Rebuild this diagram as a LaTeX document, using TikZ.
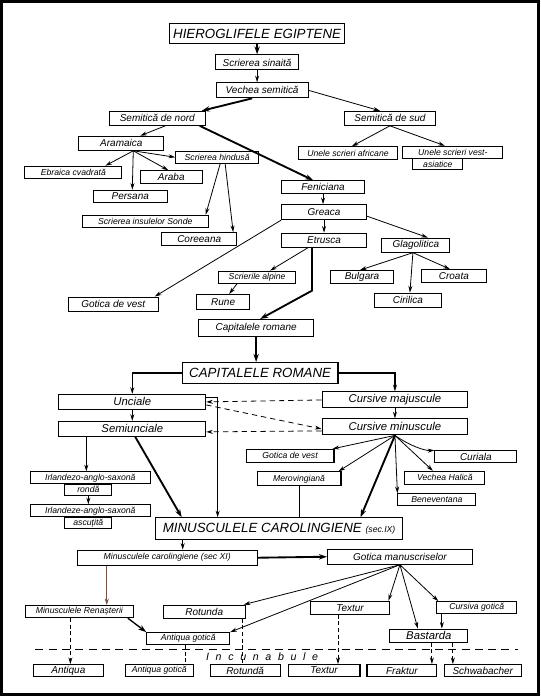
\documentclass[tikz,border=0pt]{standalone}
\usepackage{fontspec}
\setmainfont{Liberation Sans}
\usetikzlibrary{arrows.meta,calc}
\begin{document}
\begin{tikzpicture}[x=0.75pt,y=-0.75pt,
  bx/.style={draw, line width=0.8pt, inner sep=0pt, fill=white, font=\itshape\fontsize{7.5}{8}\selectfont},
  wd/.style={minimum width=#1*0.75pt},
  ht/.style={minimum height=#1*0.75pt},
  sm/.style={font=\itshape\fontsize{6.5}{7}\selectfont},
  md/.style={font=\itshape\fontsize{8.5}{9}\selectfont},
  big/.style={font=\itshape\fontsize{10}{11}\selectfont},
  con/.style={line width=0.6pt, -{Stealth[length=5pt,width=3pt]}},
  thk/.style={line width=1.4pt, -{Stealth[length=6pt,width=4pt]}},
  dsh/.style={dash pattern=on 3pt off 2pt, line width=0.6pt},
  brn/.style={draw={rgb,255:red,120;green,80;blue,70}},
]
\fill[white] (0,0) rectangle (540,696);
\draw[line width=2.2pt] (1,1) rectangle (539,695);

% ---------- upper tree ----------
\node[bx,big,wd=175,ht=20,line width=1.1pt] (title) at (257,33) {HIEROGLIFELE EGIPTENE};
\node[bx,wd=83,ht=15] (sin) at (257,62) {Scrierea sinaită};
\node[bx,wd=92,ht=15] (vsem) at (262,90) {Vechea semitică};
\node[bx,wd=96,ht=14] (snord) at (157,118) {Semitică de nord};
\node[bx,wd=91,ht=14] (ssud) at (390,118) {Semitică de sud};
\node[bx,wd=85,ht=14] (aram) at (121,143) {Aramaica};
\node[bx,sm,wd=83,ht=12] (hind) at (217,157) {Scrierea hindusă};
\node[bx,sm,wd=97,ht=12] (ebr) at (73,172) {Ebraica cvadrată};
\node[bx,wd=62,ht=13] (araba) at (171,177) {Araba};
\node[bx,wd=74,ht=12] (pers) at (130,196) {Persana};
\node[bx,sm,wd=126,ht=12] (sonde) at (145,221) {Scrierea insulelor Sonde};
\node[bx,wd=75,ht=13] (cor) at (199,239) {Coreeana};
\node[bx,sm,wd=100,ht=13] (afr) at (348,153) {Unele scrieri africane};
\node[bx,sm,wd=100,ht=12] (vest) at (453,152) {Unele scrieri vest-};
\node[bx,sm,wd=50,ht=11,anchor=north] (vestb) at (438,158) {asiatice};
\node[bx,wd=83,ht=13] (fen) at (323,187) {Feniciana};
\node[bx,wd=85,ht=15] (gre) at (324,212) {Greaca};
\node[bx,wd=85,ht=14] (etr) at (324,240) {Etrusca};
\node[bx,wd=68,ht=14] (glag) at (416,245) {Glagolitica};
\node[bx,sm,wd=77,ht=12] (alp) at (257,277) {Scrierile alpine};
\node[bx,wd=53,ht=15] (rune) at (223,302) {Rune};
\node[bx,wd=90,ht=14] (gotv) at (113,304) {Gotica de vest};
\node[bx,wd=115,ht=17] (capr) at (256,328) {Capitalele romane};
\node[bx,wd=63,ht=13] (bulg) at (362,277) {Bulgara};
\node[bx,wd=65,ht=13] (croa) at (454,276) {Croata};
\node[bx,wd=67,ht=14] (ciri) at (408,300) {Cirilica};

\draw[thk] (title.south) -- (sin.north);
\draw[con,line width=0.9pt] (sin.south) -- (sin.south |- vsem.north);
\draw[thk] ($(vsem.south)+(-10,0)$) -- ($(snord.north east)+(-4,0)$);
\draw[con] (vsem.east) -- ($(ssud.north)+(-10,0)$);
\draw[con] (ssud.south) -- ($(afr.north)+(4,0)$);
\draw[con] (ssud.south) -- ($(vest.north)+(-8,0)$);
\draw[con] ($(snord.south)+(8,0)$) -- ($(aram.north)+(19,0)$);
\draw[thk] ($(snord.south east)+(-6,0)$) -- ($(fen.north)+(-10,0)$);
\coordinate (af) at ($(aram.south)+(12,0)$);
\draw[con] (af) -- ($(ebr.north east)+(-17,0)$);
\draw[con] (af) -- ($(pers.north)+(2,0)$);
\draw[con] (af) -- ($(araba.north)+(-3,0)$);
\draw[con] (af) -- (hind.west);
\draw[con] ($(hind.south)+(3,0)$) -- ($(sonde.north east)+(-3,0)$);
\draw[con] ($(hind.south)+(8,0)$) -- ($(cor.north east)+(-4,0)$);
\draw[con] (fen.south) -- (fen.south |- gre.north);
\draw[con] (gre.south) -- (gre.south |- etr.north);
\draw[con] ($(gre.east)+(0,4)$) -- ($(glag.north)+(12,0)$);
\draw[con] (gre.south west) -- ($(gotv.north east)+(-4,0)$);
\draw[con] ($(etr.south)+(-16,0)$) -- ($(alp.north)+(13,0)$);
\draw[thk] ($(etr.south)+(-12,0)$) -- ++(0,43) -- ($(capr.north)+(4,0)$);
\draw[con] ($(alp.south)+(-20,0)$) -- ($(rune.north)+(6,0)$);
\coordinate (gf) at ($(glag.south)+(-3,0)$);
\draw[con] (gf) -- ($(bulg.north)+(-2,0)$);
\draw[con] (gf) -- ($(ciri.north)+(2,0)$);
\draw[con] (gf) -- ($(croa.north)+(-4,0)$);

% ---------- middle ----------
\node[bx,big,wd=156,ht=21] (CAPR) at (260,373) {CAPITALELE ROMANE};
\node[bx,md,wd=147,ht=15] (unc) at (132,402) {Unciale};
\node[bx,md,wd=147,ht=15] (semi) at (132,429) {Semiunciale};
\node[bx,md,wd=146,ht=16] (cmaj) at (395,400) {Cursive majuscule};
\node[bx,md,wd=146,ht=16] (cmin) at (395,427) {Cursive minuscule};
\node[bx,sm,wd=88,ht=13] (gotv2) at (290,456) {Gotica de vest};
\node[bx,wd=82,ht=12] (cur) at (476,457) {Curiala};
\node[bx,sm,wd=84,ht=14] (mero) at (299,479) {Merovingiană};
\node[bx,sm,wd=80,ht=13] (vhal) at (445,478) {Vechea Halică};
\node[bx,sm,wd=78,ht=12] (bene) at (437,500) {Beneventana};
\node[bx,sm,wd=120,ht=12] (irl1) at (90,478) {Irlandezo-anglo-saxonă};
\node[bx,sm,wd=47,ht=11,anchor=north] (irl1b) at (88,484) {rondă};
\node[bx,sm,wd=120,ht=12] (irl2) at (90,511) {Irlandeze-anglo-saxonă};
\node[bx,sm,wd=47,ht=11,anchor=north] (irl2b) at (88,517) {ascuțită};
\node[bx,big,wd=248,ht=22] (minc) at (279,529) {MINUSCULELE CAROLINGIENE {\fontsize{6.5}{7}\selectfont(sec.IX)}};

\draw[thk] (capr.south) -- (capr.south |- CAPR.north);
\draw[con,line width=1pt] (CAPR.west) -| (unc.north);
\draw[con,line width=1pt] (CAPR.east) -| (cmaj.north);
\draw[con] (unc.south) -- (semi.north);
\draw[con] (cmaj.south) -- (cmin.north);
\draw[dsh,con,dash pattern=on 4pt off 3pt] (cmaj.west) -- (unc.east);
\draw[dsh,con,dash pattern=on 4pt off 3pt] ($(unc.east)+(0,3)$) -- ($(cmin.west)+(0,2)$);
\draw[dsh,con,dash pattern=on 4pt off 3pt] ($(cmin.west)+(0,4)$) -- ($(semi.east)+(0,3)$);
\draw[con] ($(unc.north east)+(0,3)$) -| ($(minc.north west)+(63,0)$);
\draw[con] ($(semi.south west)+(28,0)$) coordinate (s1) -- (s1 |- irl1.north);
\draw[con] (irl1b.south) -- (irl1b.south |- irl2.north);
\draw[thk] ($(semi.south)+(3,0)$) -- ($(minc.north west)+(27,0)$);
\coordinate (cf) at (cmin.south);
\draw[con] (cf) -- ($(gotv2.north east)+(-2,0)$);
\draw[con] (cf) .. controls (410,446) and (425,451) .. ($(cur.north west)+(0,0)$);
\draw[con] (cf) -- ($(mero.north east)+(-3,0)$);
\draw[con] (cf) -- ($(vhal.north)+(-12,0)$);
\draw[con] (cf) -- (bene.north west);
\draw[thk] (cf) -- ($(minc.north east)+(-43,0)$);
\draw[line width=0.6pt] (mero.south) -- (mero.south |- minc.north);

% ---------- lower ----------
\node[bx,sm,wd=180,ht=15] (mcxi) at (167,558) {Minusculele carolingiene (sec XI)};
\node[bx,wd=145,ht=15] (gman) at (400,557) {Gotica manuscriselor};
\node[bx,sm,wd=108,ht=12] (mren) at (79,612) {Minusculele Renașterii};
\node[bx,wd=82,ht=13] (rot) at (204,612) {Rotunda};
\node[bx,wd=80,ht=13] (textu) at (350,608) {Textur};
\node[bx,sm,wd=80,ht=12] (curg) at (477,608) {Cursiva gotică};
\node[bx,sm,wd=83,ht=12] (antg) at (188,639) {Antiqua gotică};
\node[bx,md,wd=78,ht=13] (bast) at (429,636) {Bastarda};
\node[bx,wd=70,ht=12] (antq) at (68,671) {Antiqua};
\node[bx,sm,wd=68,ht=12] (antg2) at (159,671) {Antiqua gotică};
\node[bx,wd=70,ht=12] (rot2) at (245,671) {Rotundă};
\node[bx,wd=72,ht=12] (text2) at (324,671) {Textur};
\node[bx,wd=70,ht=12] (frak) at (402,671) {Fraktur};
\node[bx,wd=77,ht=12] (schw) at (483,671) {Schwabacher};

\draw[con] ($(minc.south west)+(28,0)$) coordinate (m1) -- (m1 |- mcxi.north);
\draw[thk] (mcxi.east) -- (gman.west);
\draw[con,brn] ($(mcxi.south west)+(30,0)$) coordinate (m2) -- (m2 |- mren.north);
\coordinate (gm) at (gman.south);
\draw[con] (gm) -- ($(rot.north east)+(-2,0)$);
\draw[con] (gm) -- (antg.north east);
\draw[con] (gm) -- ($(textu.north east)+(-2,0)$);
\draw[con] (gm) -- ($(bast.north)+(-11,0)$);
\draw[con] (gm) -- ($(curg.north west)+(2,0)$);
\draw[con] ($(curg.south)+(-35,0)$) coordinate (c1) -- (c1 |- bast.north);
\draw[thk,line width=1pt] ($(mren.south east)+(-6,0)$) -- (antg.north west);

\coordinate (sepL) at (35,650);
\coordinate (sepR) at (518,650);
\draw[dash pattern=on 6pt off 4pt, line width=0.6pt] (sepL) -- (sepR);
\node[font=\itshape\fontsize{8}{9}\selectfont, inner sep=0pt] (inc) at (262,657) {I\hspace{5pt}n\hspace{5pt}c\hspace{5pt}u\hspace{5pt}n\hspace{5pt}a\hspace{5pt}b\hspace{5pt}u\hspace{5pt}l\hspace{5pt}e};

\draw[dsh,con] ($(mren.south)+(-9,0)$) coordinate (d1) -- (d1 |- antq.north);
\draw[dsh] ($(antg.south)+(-3,0)$) coordinate (d2) -- (d2 |- antg2.north);
\draw[dsh] ($(rot.south east)+(-3,0)$) coordinate (d3) -- (d3 |- rot2.north);
\draw[dsh,con] ($(textu.south)+(-12,0)$) coordinate (d4) -- (d4 |- text2.north);
\draw[dsh,con] ($(bast.south)+(3,0)$) coordinate (d5) -- (d5 |- frak.north);
\draw[dsh,con] ($(bast.south)+(24,0)$) coordinate (d6) -- (d6 |- schw.north);
\end{tikzpicture}
\end{document}
